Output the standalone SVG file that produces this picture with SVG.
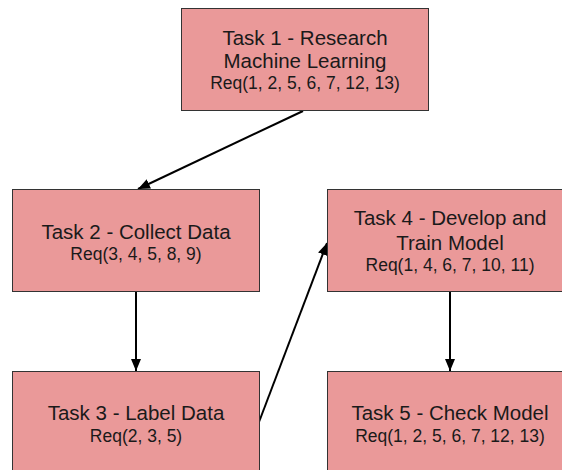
<svg xmlns="http://www.w3.org/2000/svg" width="562" height="470" viewBox="0 0 562 470">
<style>
.box{fill:#ea9999;stroke:#333;stroke-width:1}
.t{font-family:"Liberation Sans",Arial,sans-serif;font-size:20.5px;fill:#1a1a1a;text-anchor:middle}
.r{font-family:"Liberation Sans",Arial,sans-serif;font-size:17.5px;fill:#1a1a1a;text-anchor:middle}
.c{stroke:#000;stroke-width:2;fill:none;marker-end:url(#ah)}
</style>
<defs>
<marker id="ah" markerUnits="userSpaceOnUse" markerWidth="12" markerHeight="12" viewBox="0 0 12 12" refX="12" refY="6" orient="auto">
<path d="M0,1 L12,6 L0,11 Z" fill="#000"/>
</marker>
</defs>
<rect width="562" height="470" fill="#fff"/>
<g id="connectors">
<line class="c" x1="303" y1="111" x2="138" y2="189"/>
<line class="c" x1="136" y1="292" x2="136" y2="371"/>
<line class="c" x1="259" y1="422" x2="327" y2="243"/>
<line class="c" x1="450" y1="291" x2="450" y2="371"/>
</g>
<g id="task1">
<rect class="box" x="181.5" y="8.5" width="247" height="102"/>
<text class="t" x="305" y="45">Task 1 - Research</text>
<text class="t" x="305" y="68">Machine Learning</text>
<text class="r" x="305" y="89">Req(1, 2, 5, 6, 7, 12, 13)</text>
</g>
<g id="task2">
<rect class="box" x="12.5" y="189.5" width="247" height="102"/>
<text class="t" x="136" y="239">Task 2 - Collect Data</text>
<text class="r" x="136" y="260">Req(3, 4, 5, 8, 9)</text>
</g>
<g id="task3">
<rect class="box" x="12.5" y="371.5" width="247" height="102"/>
<text class="t" x="136" y="420">Task 3 - Label Data</text>
<text class="r" x="136" y="442">Req(2, 3, 5)</text>
</g>
<g id="task4">
<rect class="box" x="327.5" y="189.5" width="247" height="102"/>
<text class="t" x="450" y="225">Task 4 - Develop and</text>
<text class="t" x="450" y="250">Train Model</text>
<text class="r" x="450" y="271">Req(1, 4, 6, 7, 10, 11)</text>
</g>
<g id="task5">
<rect class="box" x="327.5" y="371.5" width="247" height="102"/>
<text class="t" x="450" y="420">Task 5 - Check Model</text>
<text class="r" x="450" y="442">Req(1, 2, 5, 6, 7, 12, 13)</text>
</g>
</svg>
